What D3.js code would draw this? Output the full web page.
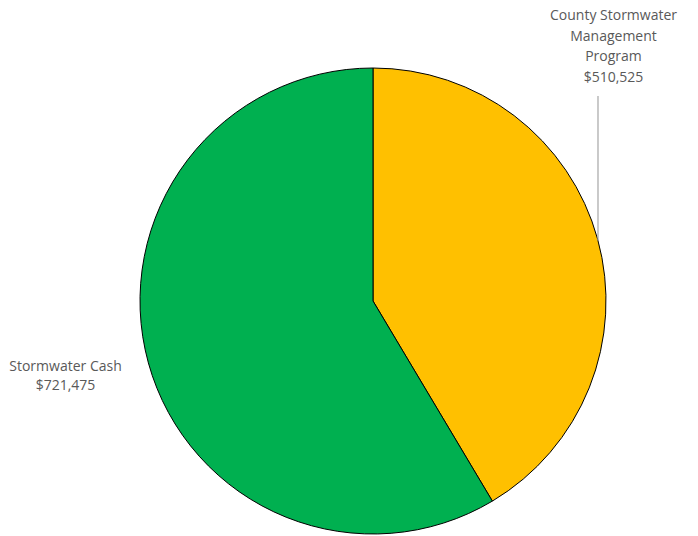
<!DOCTYPE html>
<html><head><meta charset="utf-8">
<script src="https://cdn.jsdelivr.net/npm/d3@7"></script>
<style>body{margin:0;background:#fff}svg{display:block}</style>
</head><body>
<script>
const categories = ["County Stormwater Management Program", "Stormwater Cash"];
const values = [510525, 721475];
const labelLines = [["County Stormwater", "Management", "Program", "$510,525"], ["Stormwater Cash", "$721,475"]];
const colors = ["#FFC000", "#00B050"];

const W = 698, H = 536;
const cx = 373, cy = 301, R = 233;
const svg = d3.select("body").append("svg").attr("width", W).attr("height", H);
const g = svg.append("g").attr("transform", `translate(${cx},${cy})`);
const pie = d3.pie().sort(null).value(d => d)(values);
const arc = d3.arc().innerRadius(0).outerRadius(R);
g.selectAll("path").data(pie).join("path")
  .attr("d", arc).attr("fill", (d, i) => colors[i])
  .attr("stroke", "#000").attr("stroke-width", 1);

// leader line for first slice
const lx = 598;
const ly = cy - Math.sqrt(R * R - (lx - cx) * (lx - cx));
svg.append("line").attr("x1", lx).attr("x2", lx).attr("y1", 96).attr("y2", ly)
  .attr("stroke", "#a6a6a6").attr("stroke-width", 1.2);

const labelPos = [[613.5, 15], [65.5, 366]];
const lh = [20.7, 19.5];
labelLines.forEach((lines, i) => {
  const t = svg.append("text").attr("text-anchor", "middle")
    .attr("font-family", "'Open Sans', sans-serif").attr("font-size", 14).attr("fill", "#595959");
  lines.forEach((s, j) => {
    t.append("tspan").attr("x", labelPos[i][0]).attr("y", labelPos[i][1] + j * lh[i])
      .attr("dy", "0.35em").text(s);
  });
});
</script>
</body></html>
